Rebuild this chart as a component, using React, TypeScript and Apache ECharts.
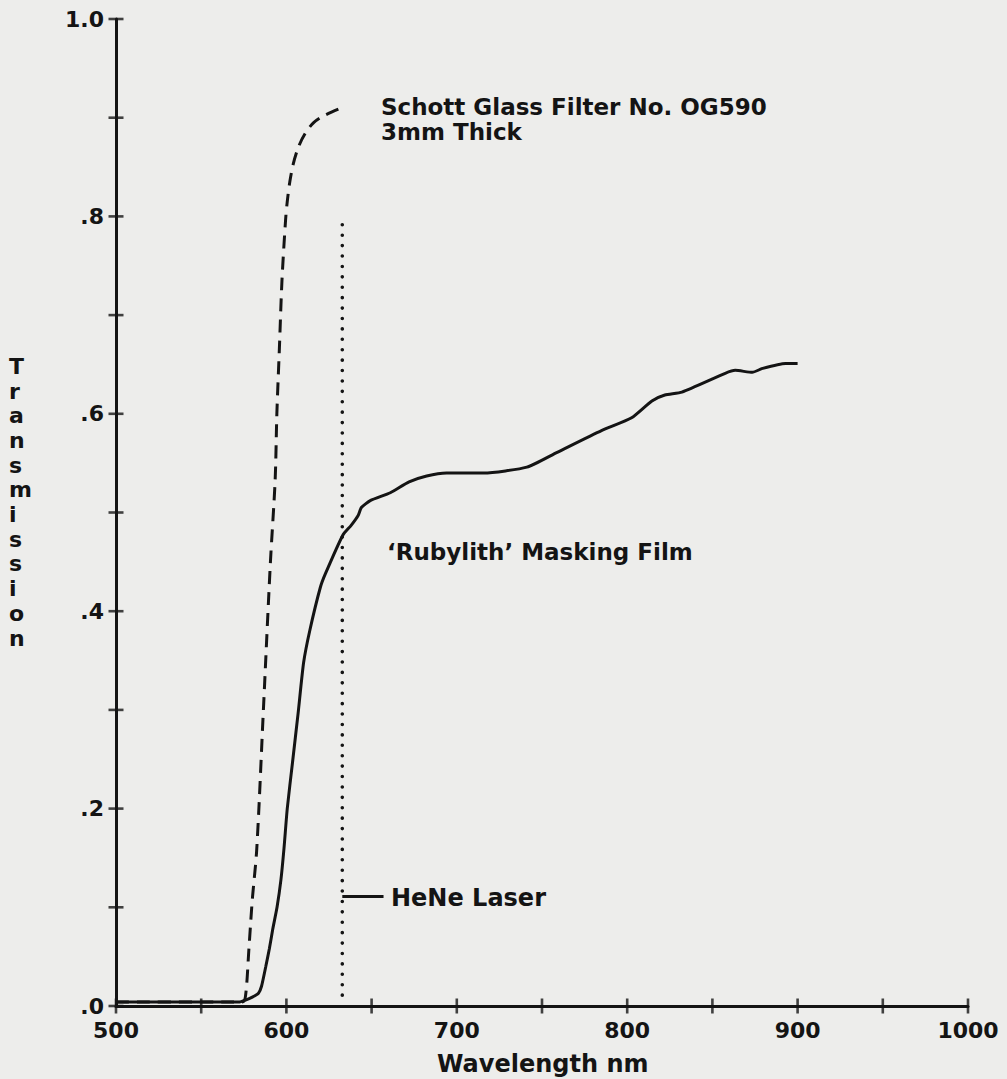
import React, { useEffect, useRef } from "react";
import * as echarts from "echarts";

// Schott OG590 filter (dashed)
const filterWavelength = [500, 574, 576, 578, 580, 582.6, 586.5, 590.6, 593.4, 594.4, 595.9, 597.4, 599.5, 600.5, 602, 604, 607, 611, 616, 622, 631];
const filterTransmission = [0.004, 0.004, 0.01, 0.058, 0.108, 0.159, 0.3, 0.449, 0.533, 0.6, 0.667, 0.735, 0.796, 0.815, 0.835, 0.853, 0.87, 0.884, 0.895, 0.902, 0.909];

// 'Rubylith' masking film (solid)
const filmWavelength = [500, 572, 576, 580, 583.6, 585.4, 587.9, 590, 592, 594.5, 596.8, 598.6, 600.5, 603.6, 606.9, 610.1, 613.8, 619.9, 622.9, 633.1, 638, 642.1, 644, 649.2, 661, 672, 682.3, 694, 715.8, 741.1, 758.9, 784.9, 802.6, 814.5, 822.1, 832.1, 857.5, 863.4, 873.4, 879.4, 892.9, 900];
const filmTransmission = [0.004, 0.004, 0.006, 0.009, 0.013, 0.02, 0.04, 0.058, 0.078, 0.1, 0.128, 0.16, 0.2, 0.247, 0.297, 0.348, 0.381, 0.424, 0.438, 0.477, 0.487, 0.497, 0.505, 0.512, 0.52, 0.531, 0.537, 0.54, 0.54, 0.546, 0.561, 0.583, 0.596, 0.613, 0.619, 0.622, 0.641, 0.644, 0.642, 0.646, 0.651, 0.651];

// HeNe laser line
const laserWavelength = 632.8;
const laserRange = [0.011, 0.802];
const laserPointerY = 0.111;
const laserPointerEnd = 657;

// Axis ticks (crossing the axis lines) and labels
const xTickValues = [500, 550, 600, 650, 700, 750, 800, 850, 900, 950, 1000];
const yTickValues = [0, 0.1, 0.2, 0.3, 0.4, 0.5, 0.6, 0.7, 0.8, 0.9, 1.0];
const xLabelValues = [500, 600, 700, 800, 900, 1000];
const yLabelTexts: Record<number, string> = { 0: ".0", 2: ".2", 4: ".4", 6: ".6", 8: ".8", 10: "1.0" };

const annotationTexts = {
  filter1: "Schott Glass Filter No. OG590",
  filter2: "3mm Thick",
  film: "‘Rubylith’ Masking Film",
  laser: "HeNe Laser",
  xName: "Wavelength nm",
  yName: "Transmission",
};

const INK = "#141414";
const FONT = "'DejaVu Sans', sans-serif";

export default function App() {
  const ref = useRef<HTMLDivElement>(null);
  useEffect(() => {
    if (!ref.current) return;
    const chart = echarts.init(ref.current, null, { renderer: "svg" });
    const zip = (a: number[], b: number[]) => a.map((v, i) => [v, b[i]]);
    chart.setOption({
      animation: false,
      backgroundColor: "#ededeb",
      grid: { left: 116, right: 39, top: 19, bottom: 73 },
      xAxis: {
        type: "value",
        min: 500,
        max: 1000,
        interval: 50,
        axisLine: { show: true, onZero: false, lineStyle: { color: INK, width: 3 } },
        axisTick: { show: false },
        splitLine: { show: false },
        axisLabel: {
          color: INK,
          fontFamily: FONT,
          fontWeight: "bold",
          fontSize: 22,
          margin: 13,
          showMinLabel: true,
          showMaxLabel: true,
          formatter: (v: number) => (xLabelValues.includes(Math.round(v)) ? String(Math.round(v)) : ""),
        },
      },
      yAxis: {
        type: "value",
        min: 0,
        max: 1,
        interval: 0.1,
        axisLine: { show: true, onZero: false, lineStyle: { color: INK, width: 3 } },
        axisTick: { show: false },
        splitLine: { show: false },
        axisLabel: {
          color: INK,
          fontFamily: FONT,
          fontWeight: "bold",
          fontSize: 22,
          margin: 12,
          showMinLabel: true,
          showMaxLabel: true,
          formatter: (v: number) => yLabelTexts[Math.round(v * 10)] ?? "",
        },
      },
      series: [
        {
          type: "line",
          name: "OG590",
          data: zip(filterWavelength, filterTransmission),
          showSymbol: false,
          smooth: 0.3,
          lineStyle: { color: INK, width: 3, type: [13, 8] },
        },
        {
          type: "line",
          name: "Rubylith",
          data: zip(filmWavelength, filmTransmission),
          showSymbol: false,
          smooth: 0.2,
          lineStyle: { color: INK, width: 3 },
        },
        {
          type: "line",
          name: "HeNe",
          data: [[laserWavelength, laserRange[0]], [laserWavelength, laserRange[1]]],
          showSymbol: false,
          lineStyle: { color: INK, width: 3.6, type: [0.01, 10.4], cap: "round" },
        },
        {
          type: "line",
          name: "HeNe pointer",
          data: [[laserWavelength, laserPointerY], [laserPointerEnd, laserPointerY]],
          showSymbol: false,
          lineStyle: { color: INK, width: 3 },
        },
        {
          type: "scatter",
          name: "x ticks",
          data: xTickValues.map((v) => [v, 0]),
          symbol: "rect",
          symbolSize: [2.6, 15],
          itemStyle: { color: INK },
          clip: false,
          silent: true,
          z: 5,
        },
        {
          type: "scatter",
          name: "y ticks",
          data: yTickValues.map((v) => [500, v]),
          symbol: "rect",
          symbolSize: [15, 2.6],
          itemStyle: { color: INK },
          clip: false,
          silent: true,
          z: 5,
        },
      ],
      graphic: [
        { type: "text", left: 381, top: 95, style: { text: annotationTexts.filter1, fill: INK, font: `bold 23px ${FONT}` } },
        { type: "text", left: 381, top: 120, style: { text: annotationTexts.filter2, fill: INK, font: `bold 23px ${FONT}` } },
        { type: "text", left: 387, top: 540, style: { text: annotationTexts.film, fill: INK, font: `bold 23px ${FONT}` } },
        { type: "text", left: 391, top: 886, style: { text: annotationTexts.laser, fill: INK, font: `bold 24px ${FONT}` } },
        { type: "text", left: 437, top: 1052, style: { text: annotationTexts.xName, fill: INK, font: `bold 24px ${FONT}` } },
        {
          type: "text",
          left: 9,
          top: 354,
          style: {
            text: annotationTexts.yName.split("").join("\n"),
            fill: INK,
            font: `bold 22px ${FONT}`,
            lineHeight: 24.7,
            align: "center",
            width: 22,
          },
        },
      ],
    });
    return () => chart.dispose();
  }, []);
  return (
    <div
      ref={ref}
      style={{ position: "absolute", left: 0, top: 0, width: 1007, height: 1079 }}
    />
  );
}
